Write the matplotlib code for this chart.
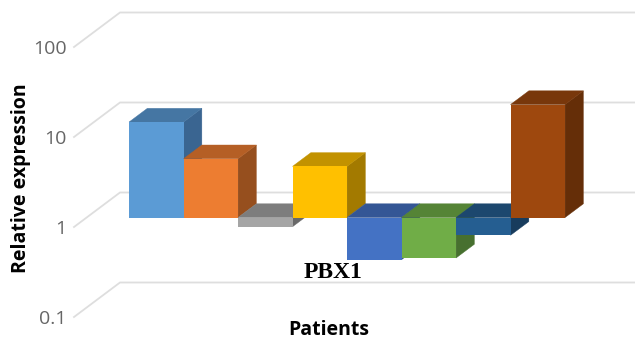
import matplotlib
matplotlib.use("Agg")
import matplotlib.pyplot as plt
from matplotlib.patches import Polygon
from matplotlib.transforms import Affine2D, IdentityTransform

patients = ["P1", "P2", "P3", "P4", "P5", "P6", "P7", "P8"]
expression = [11.5, 4.5, 0.79, 3.7, 0.34, 0.355, 0.635, 18.0]
tick_values = [0.1, 1, 10, 100]
tick_labels = ["0.1", "1", "10", "100"]

front_colors = ["#5B9BD5", "#ED7D31", "#A5A5A5", "#FFC000", "#4472C4", "#70AD47", "#255E91", "#9E480E"]
top_colors = ["#4576A3", "#B55F25", "#7D7D7D", "#C29200", "#345695", "#558436", "#1C476E", "#78370B"]
side_colors = ["#3A6591", "#964F1E", "#686868", "#A37A00", "#2B4A80", "#47702F", "#183C5D", "#652E08"]

W, H = 635, 343
fig = plt.figure(figsize=(W / 100, H / 100), dpi=100, facecolor="white")
ax = fig.add_axes([73 / W, 0, (W - 73) / W, 1])
ax.set_yscale("log")
ax.set_ylim(10 ** (-116 / 90), 10 ** (227 / 90))
bar_w = 54.5
ax.set_xlim((73 - 156.3) / bar_w, (635 - 156.3) / bar_w)

ax.set_yticks(tick_values)
ax.set_yticklabels(tick_labels)
ax.yaxis.set_minor_locator(matplotlib.ticker.NullLocator())
ax.set_xticks([])
ax.tick_params(axis="y", length=0, pad=4.5, labelsize=14, labelcolor="#666666")
for lab in ax.get_yticklabels():
    lab.set_family("Open Sans")
for s in ax.spines.values():
    s.set_visible(False)
ax.patch.set_visible(False)

ident = IdentityTransform()

def disp(x, v, ox=0.0, oy=0.0):
    px, py = ax.transData.transform((x, v))
    return (px + ox, py + oy)

# floor-to-wall guide lines and wall gridlines
x_left = ax.get_xlim()[0]
x_right = ax.get_xlim()[1]
for v in tick_values:
    a = disp(x_left, v, 1, 0)
    b = disp(x_left, v, 47, 34.5)
    c = disp(x_right, v, 0, 34.5)
    ax.plot([a[0], b[0], c[0]], [a[1], b[1], c[1]], transform=ident,
            color="#DEDEDE", lw=1.3, solid_joinstyle="miter", clip_on=False, zorder=1)

# bars: front plane sits 9.5 px above the floor front edge
LIFT = 9.5
DX, DY = 18.3, 13.7
front_tf = ax.transData + Affine2D().translate(0, LIFT)

for i, val in enumerate(expression):
    z = 2 + i
    x0, x1 = i - 0.5, i + 0.5
    top_val = max(val, 1.0)
    low_val = min(val, 1.0)
    # front
    ax.bar(i, top_val - low_val, bottom=low_val, width=1.0, color=front_colors[i],
           transform=front_tf, zorder=z + 0.2, linewidth=0, clip_on=False)
    # top
    tl = disp(x0, top_val, 0, LIFT)
    tr = disp(x1, top_val, 0, LIFT)
    bl = disp(x1, low_val, 0, LIFT)
    ax.add_patch(Polygon([tl, tr, (tr[0] + DX, tr[1] + DY), (tl[0] + DX, tl[1] + DY)],
                         closed=True, transform=ident, facecolor=top_colors[i],
                         edgecolor=top_colors[i], linewidth=0.3, zorder=z + 0.1, clip_on=False))
    # side
    ax.add_patch(Polygon([tr, bl, (bl[0] + DX, bl[1] + DY), (tr[0] + DX, tr[1] + DY)],
                         closed=True, transform=ident, facecolor=side_colors[i],
                         edgecolor=side_colors[i], linewidth=0.3, zorder=z, clip_on=False))

ax.set_ylabel("Relative expression", family="Open Sans", fontweight="bold",
              fontsize=14, color="black")
ax.yaxis.set_label_coords((21 - 73) / (W - 73), 1 - 178 / H)
ax.set_xlabel("Patients", family="Open Sans", fontweight="bold", fontsize=14, color="black")
ax.xaxis.set_label_coords((329 - 73) / (W - 73), 1 - 330 / H)
ax.xaxis.label.set_verticalalignment("center")
ax.yaxis.label.set_verticalalignment("center")

fig.text(333 / W, 1 - 273 / H, "PBX1", family="Liberation Serif", fontweight="bold",
         fontsize=17, color="black", ha="center", va="center", zorder=30)

fig.savefig("out.png", dpi=100)
